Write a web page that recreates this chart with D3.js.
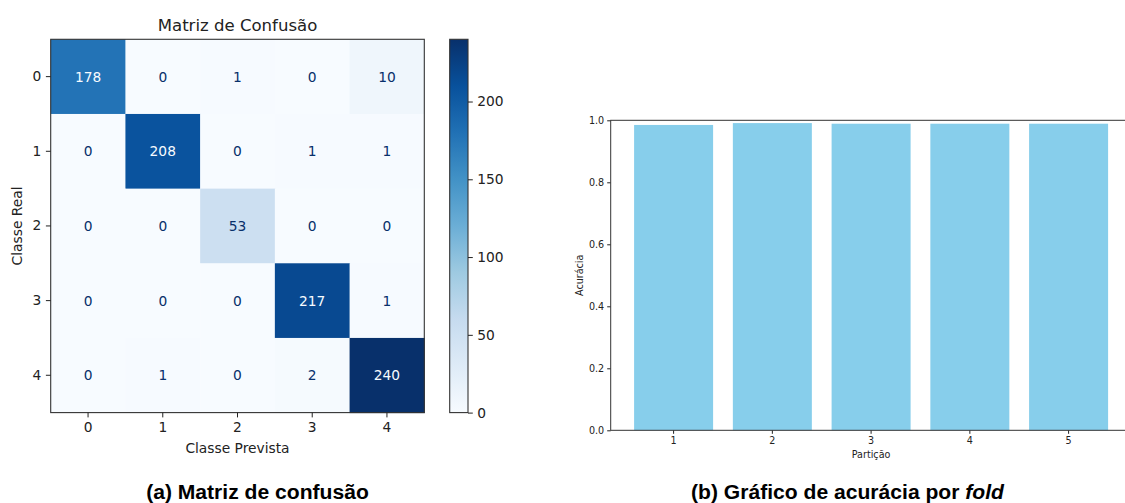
<!DOCTYPE html>
<html>
<head>
<meta charset="utf-8">
<script src="https://cdn.jsdelivr.net/npm/d3@7"></script>
<style>
  html, body { margin: 0; padding: 0; background: #fff; }
  svg { display: block; }
  .mpl text { font-family: "DejaVu Sans", sans-serif; fill: #222; }
  .caption { font-family: "Liberation Sans", Arial, sans-serif; font-weight: bold; fill: #000; }
</style>
</head>
<body>
<svg id="fig" width="1125" height="503"></svg>
<script>
// Confusion matrix (rows: true class, columns: predicted class)
const classes = ["0", "1", "2", "3", "4"];
const row0 = [178, 0, 1, 0, 10];
const row1 = [0, 208, 0, 1, 1];
const row2 = [0, 0, 53, 0, 0];
const row3 = [0, 0, 0, 217, 1];
const row4 = [0, 1, 0, 2, 240];
const confusion = [row0, row1, row2, row3, row4];
const colorbarTicks = [0, 50, 100, 150, 200];

// Accuracy per cross-validation fold
const folds = ["1", "2", "3", "4", "5"];
const accuracy = [0.985, 0.991, 0.989, 0.989, 0.989];
const accuracyTicks = [0, 0.2, 0.4, 0.6, 0.8, 1.0];

// Matplotlib "Blues" colour stops
const bluesStops = ["#f7fbff", "#deebf7", "#c6dbef", "#9ecae1", "#6baed6",
                    "#4292c6", "#2171b5", "#08519c", "#08306b"];

const svg = d3.select("#fig");
svg.append("rect").attr("width", 1125).attr("height", 503).attr("fill", "#fff");

const FS = 13.8;       // left panel font size
const FS2 = 9.6;       // right panel font size
const spineColor = "#333";

// ---------- Left panel: confusion matrix ----------
const left = svg.append("g").attr("class", "mpl");
const hm = { x0: 50.7, x1: 424.3, y0: 39.3, y1: 412.6 };

const vmax = d3.max(confusion.flat());
const vmin = d3.min(confusion.flat());
const blues = d3.scaleLinear()
  .domain(bluesStops.map((_, i) => vmin + (vmax - vmin) * i / (bluesStops.length - 1)))
  .range(bluesStops)
  .interpolate(d3.interpolateRgb)
  .clamp(true);

const xb = d3.scaleBand().domain(classes).range([hm.x0, hm.x1]);
const yb = d3.scaleBand().domain(classes).range([hm.y0, hm.y1]);

const cells = [];
confusion.forEach((row, r) => row.forEach((v, c) => cells.push({ r, c, v })));

left.selectAll("rect.cell").data(cells).join("rect")
  .attr("class", "cell")
  .attr("x", d => xb(classes[d.c]))
  .attr("y", d => yb(classes[d.r]))
  .attr("width", xb.bandwidth() + 0.5)
  .attr("height", yb.bandwidth() + 0.5)
  .attr("fill", d => blues(d.v));

const thresh = (vmax + vmin) / 2;
left.selectAll("text.val").data(cells).join("text")
  .attr("class", "val")
  .attr("x", d => xb(classes[d.c]) + xb.bandwidth() / 2)
  .attr("y", d => yb(classes[d.r]) + yb.bandwidth() / 2)
  .attr("text-anchor", "middle")
  .attr("dominant-baseline", "central")
  .style("font-size", FS + "px")
  .style("fill", d => d.v > thresh ? bluesStops[0] : bluesStops[8])
  .text(d => d.v);

left.append("rect")
  .attr("x", hm.x0).attr("y", hm.y0)
  .attr("width", hm.x1 - hm.x0).attr("height", hm.y1 - hm.y0)
  .attr("fill", "none").attr("stroke", spineColor).attr("stroke-width", 1.1);

function styleAxis(g, fs) {
  g.select(".domain").remove();
  g.selectAll(".tick line").attr("stroke", "#222").attr("stroke-width", 1);
  g.selectAll(".tick text").style("font-size", fs + "px")
    .style("font-family", "'DejaVu Sans', sans-serif").attr("fill", "#222");
}

left.append("g").attr("transform", `translate(0,${hm.y1})`)
  .call(d3.axisBottom(xb).tickSize(4.8).tickPadding(4.5))
  .call(g => styleAxis(g, FS));
left.append("g").attr("transform", `translate(${hm.x0},0)`)
  .call(d3.axisLeft(yb).tickSize(4.8).tickPadding(4.5))
  .call(g => styleAxis(g, FS));

left.append("text")
  .attr("x", (hm.x0 + hm.x1) / 2).attr("y", 30.5)
  .attr("text-anchor", "middle").style("font-size", (FS * 1.2) + "px")
  .text("Matriz de Confusão");
left.append("text")
  .attr("x", (hm.x0 + hm.x1) / 2).attr("y", 453)
  .attr("text-anchor", "middle").style("font-size", FS + "px")
  .text("Classe Prevista");
left.append("text")
  .attr("transform", `translate(22,${(hm.y0 + hm.y1) / 2}) rotate(-90)`)
  .attr("text-anchor", "middle").style("font-size", FS + "px")
  .text("Classe Real");

// Colorbar
const cb = { x0: 449.7, x1: 468, y0: hm.y0, y1: hm.y1 };
const grad = svg.append("defs").append("linearGradient")
  .attr("id", "bluesGrad").attr("x1", 0).attr("y1", 1).attr("x2", 0).attr("y2", 0);
grad.selectAll("stop").data(bluesStops).join("stop")
  .attr("offset", (d, i) => i / (bluesStops.length - 1))
  .attr("stop-color", d => d);

left.append("rect")
  .attr("x", cb.x0).attr("y", cb.y0)
  .attr("width", cb.x1 - cb.x0).attr("height", cb.y1 - cb.y0)
  .attr("fill", "url(#bluesGrad)")
  .attr("stroke", spineColor).attr("stroke-width", 1.1);

const cbScale = d3.scaleLinear().domain([vmin, vmax]).range([cb.y1, cb.y0]);
left.append("g").attr("transform", `translate(${cb.x1},0)`)
  .call(d3.axisRight(cbScale).tickValues(colorbarTicks).tickSize(4.8).tickPadding(4.5))
  .call(g => styleAxis(g, FS));

// ---------- Right panel: accuracy per fold ----------
const right = svg.append("g").attr("class", "mpl");
const bc = { x0: 610.7, x1: 1131.5, y0: 120.3, y1: 430.3 };

const xf = d3.scaleBand().domain(folds).range([bc.x0, bc.x1])
  .paddingInner(0.2).paddingOuter(0.237);
const ya = d3.scaleLinear().domain([0, 1]).range([bc.y1, bc.y0]);

right.selectAll("rect.bar").data(accuracy).join("rect")
  .attr("class", "bar")
  .attr("x", (d, i) => xf(folds[i]))
  .attr("y", d => ya(d))
  .attr("width", xf.bandwidth())
  .attr("height", d => ya(0) - ya(d))
  .attr("fill", "#87ceeb");

right.append("g").attr("transform", `translate(0,${bc.y1})`)
  .call(d3.axisBottom(xf).tickSize(3.5).tickPadding(3))
  .call(g => styleAxis(g, FS2));
right.append("g").attr("transform", `translate(${bc.x0},0)`)
  .call(d3.axisLeft(ya).tickValues(accuracyTicks).tickFormat(d3.format(".1f")).tickSize(3.5).tickPadding(3))
  .call(g => styleAxis(g, FS2));

// spines (right spine lies past the page edge)
right.append("rect")
  .attr("x", bc.x0).attr("y", bc.y0)
  .attr("width", bc.x1 - bc.x0).attr("height", bc.y1 - bc.y0)
  .attr("fill", "none").attr("stroke", spineColor).attr("stroke-width", 1);

right.append("text")
  .attr("x", (bc.x0 + bc.x1) / 2).attr("y", 458)
  .attr("text-anchor", "middle").style("font-size", FS2 + "px")
  .text("Partição");
right.append("text")
  .attr("transform", `translate(583,${(bc.y0 + bc.y1) / 2}) rotate(-90)`)
  .attr("text-anchor", "middle").style("font-size", FS2 + "px")
  .text("Acurácia");

// ---------- Captions ----------
svg.append("text").attr("class", "caption")
  .attr("x", 257.5).attr("y", 499).attr("text-anchor", "middle")
  .style("font-size", "21.1px")
  .text("(a) Matriz de confusão");
const capB = svg.append("text").attr("class", "caption")
  .attr("x", 847.5).attr("y", 499).attr("text-anchor", "middle")
  .style("font-size", "21.1px");
capB.append("tspan").text("(b) Gráfico de acurácia por ");
capB.append("tspan").style("font-style", "italic").text("fold");
</script>
</body>
</html>
